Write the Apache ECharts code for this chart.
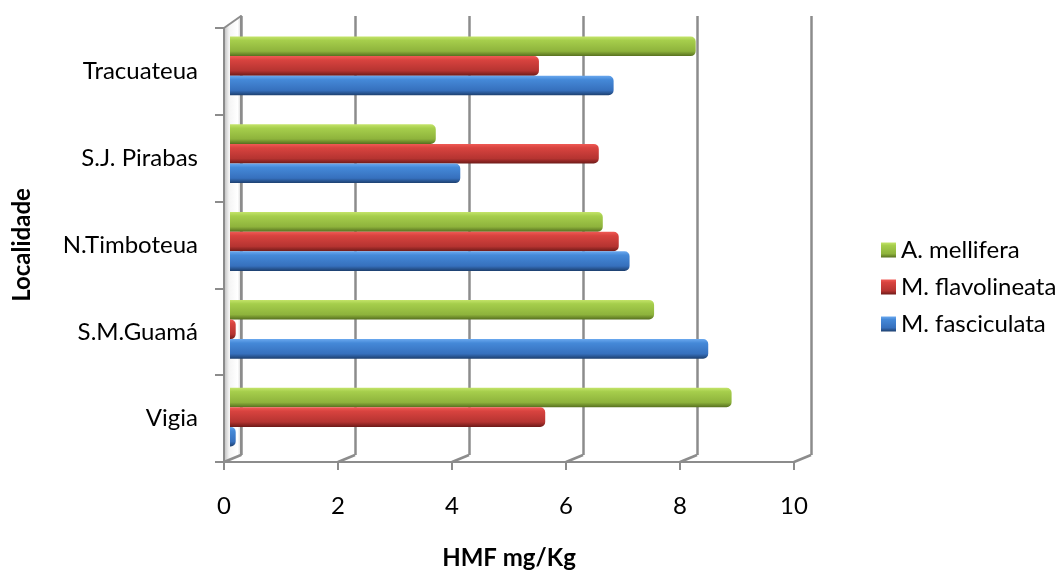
<!DOCTYPE html>
<html>
<head>
<meta charset="utf-8">
<script src="https://cdn.jsdelivr.net/npm/echarts@6/dist/echarts.min.js"></script>
<style>
html,body{margin:0;padding:0;background:#fff;}
#chart{width:1064px;height:575px;}
</style>
</head>
<body>
<div id="chart"></div>
<script>
const categories = ['Vigia', 'S.M.Guamá', 'N.Timboteua', 'S.J. Pirabas', 'Tracuateua'];
const fasciculata = [0.1, 8.39, 7.01, 4.04, 6.73];
const flavolineata = [5.53, 0.1, 6.82, 6.47, 5.42];
const mellifera = [8.80, 7.44, 6.54, 3.61, 8.17];
const xTicks = [0, 2, 4, 6, 8, 10];
const seriesNames = ['M. fasciculata', 'M. flavolineata', 'A. mellifera'];

const FONT = 'Lato, "Open Sans", sans-serif';
const GRAY = '#8c8c8c';

function grad(c0, c1, c2, c3) {
  return new echarts.graphic.LinearGradient(0, 0, 0, 1, [
    {offset: 0, color: c0},
    {offset: 0.2, color: c1},
    {offset: 0.75, color: c2},
    {offset: 1, color: c3}
  ]);
}
const blueFill = grad('#6aa8ee', '#4589d8', '#3670bd', '#1d3f6e');
const redFill = grad('#f05a55', '#d8433f', '#b53431', '#6e1a18');
const greenFill = grad('#c4e46a', '#a6ce4c', '#8eb33c', '#566f1f');

const chart = echarts.init(document.getElementById('chart'), null, {renderer: 'canvas'});

function barSeries(name, data, fill) {
  return {
    name: name, type: 'bar', xAxisIndex: 2, yAxisIndex: 2,
    data: data, barGap: '0%', barCategoryGap: '33%',
    itemStyle: {color: fill, borderRadius: [0, 5, 5, 0]},
    z: 5
  };
}

chart.setOption({
  animation: false,
  backgroundColor: '#fff',
  grid: [
    {left: 224, top: 28, width: 570, height: 439},
    {left: 241, top: 16, width: 570, height: 439},
    {left: 230, top: 22, width: 570, height: 439}
  ],
  legend: {
    data: [seriesNames[2], seriesNames[1], seriesNames[0]],
    orient: 'vertical', left: 876, top: 233, itemGap: 13,
    itemWidth: 15, itemHeight: 15, icon: 'rect',
    textStyle: {fontFamily: FONT, fontSize: 24, color: '#000'}
  },
  xAxis: [
    {
      gridIndex: 0, type: 'value', min: 0, max: 10, interval: 2,
      axisLine: {show: true, lineStyle: {color: GRAY, width: 2}},
      axisTick: {show: true, length: 8, lineStyle: {color: GRAY, width: 2}},
      axisLabel: {margin: 32, fontFamily: FONT, fontSize: 24, color: '#000',
        formatter: v => xTicks.includes(v) ? String(v) : ''},
      splitLine: {show: false},
      name: 'HMF mg/Kg', nameLocation: 'middle', nameGap: 84,
      nameTextStyle: {fontFamily: FONT, fontSize: 24, fontWeight: 'bold', color: '#000'}
    },
    {
      gridIndex: 1, type: 'value', min: 0, max: 10, interval: 2,
      axisLine: {show: false}, axisTick: {show: false}, axisLabel: {show: false},
      splitLine: {show: true, lineStyle: {color: GRAY, width: 2.5}}
    },
    {
      gridIndex: 2, type: 'value', min: 0, max: 10, show: false
    }
  ],
  yAxis: [
    {
      gridIndex: 0, type: 'category', data: categories,
      axisLine: {show: true, lineStyle: {color: GRAY, width: 2}},
      axisTick: {show: true, length: 9, lineStyle: {color: GRAY, width: 2}},
      axisLabel: {margin: 26, fontFamily: FONT, fontSize: 24, color: '#000'},
      name: 'Localidade', nameLocation: 'middle', nameGap: 190, nameRotate: 90,
      nameTextStyle: {fontFamily: FONT, fontSize: 24, fontWeight: 'bold', color: '#000'}
    },
    {
      gridIndex: 1, type: 'category', data: categories,
      axisLine: {show: true, lineStyle: {color: GRAY, width: 2}},
      axisTick: {show: false}, axisLabel: {show: false}
    },
    {
      gridIndex: 2, type: 'category', data: categories, show: false
    }
  ],
  series: [
    barSeries(seriesNames[2], mellifera, greenFill),
    barSeries(seriesNames[1], flavolineata, redFill),
    barSeries(seriesNames[0], fasciculata, blueFill)
  ]
});

// 3D floor / wall connector lines, derived from axis scales
function catEdges(gridIndex) {
  const y0 = chart.convertToPixel({gridIndex: gridIndex}, [0, 0])[1];
  const y1 = chart.convertToPixel({gridIndex: gridIndex}, [0, 1])[1];
  const yl = chart.convertToPixel({gridIndex: gridIndex}, [0, categories.length - 1])[1];
  const band = y0 - y1;
  return {bottom: y0 + band / 2, top: yl - band / 2};
}
const back = catEdges(1);
const front = catEdges(0);
const xBack0 = chart.convertToPixel({xAxisIndex: 1}, 0);
const xFront0 = chart.convertToPixel({xAxisIndex: 0}, 0);
const elements = [];
// left wall
elements.push({type: 'polygon', z: 0, silent: true,
  shape: {points: [[xFront0, front.top], [xBack0, back.top], [xBack0, back.bottom], [xFront0, front.bottom]]},
  style: {fill: new echarts.graphic.LinearGradient(0, 0, 1, 0, [
    {offset: 0, color: '#bdbdbd'}, {offset: 0.3, color: '#f4f4f4'},
    {offset: 0.8, color: '#ffffff'}, {offset: 1, color: '#d6d6d6'}])}});
xTicks.forEach(v => {
  const xb = chart.convertToPixel({xAxisIndex: 1}, v);
  const xf = chart.convertToPixel({xAxisIndex: 0}, v);
  elements.push({type: 'line', z: 1, silent: true,
    shape: {x1: xb, y1: back.bottom, x2: xf, y2: front.bottom},
    style: {stroke: GRAY, lineWidth: 2.5}});
});
elements.push({type: 'line', z: 1, silent: true,
  shape: {x1: xBack0, y1: back.top, x2: xFront0, y2: front.top},
  style: {stroke: GRAY, lineWidth: 2}});
chart.setOption({graphic: elements});
</script>
</body>
</html>
